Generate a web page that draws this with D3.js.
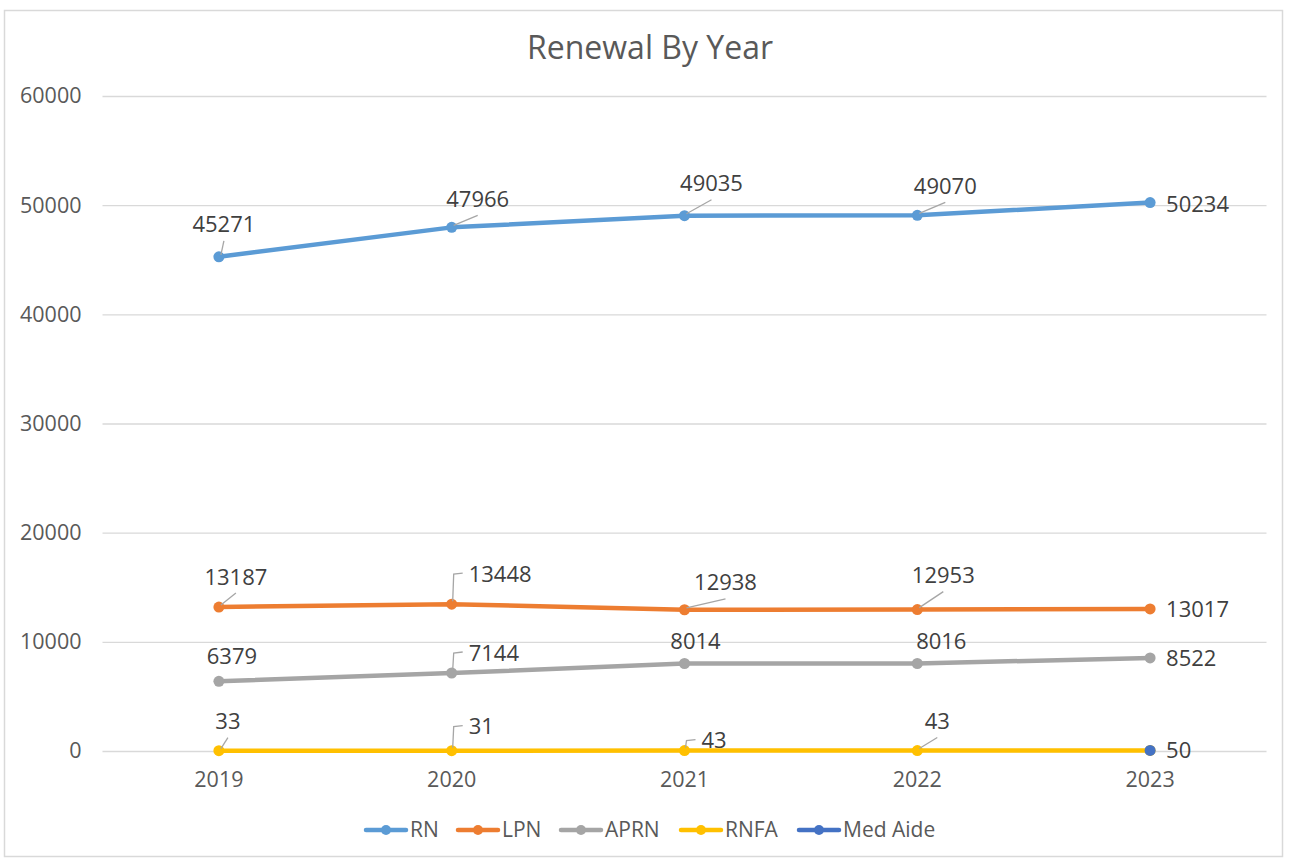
<!DOCTYPE html>
<html><head><meta charset="utf-8">
<script src="https://cdn.jsdelivr.net/npm/d3@7"></script>
<style>
body{margin:0;background:#fff;}
text{font-family:"Open Sans",sans-serif;fill:#404040;}
</style></head>
<body><svg id="c" width="1289" height="859"></svg>
<script>
const years = ["2019","2020","2021","2022","2023"];
const seriesNames = ["RN","LPN","APRN","RNFA","Med Aide"];
const rnValues = [45271,47966,49035,49070,50234];
const lpnValues = [13187,13448,12938,12953,13017];
const aprnValues = [6379,7144,8014,8016,8522];
const rnfaValues = [33,31,43,43,48];
const medAideValues = [null,null,null,null,50];
const yTicks = [0,10000,20000,30000,40000,50000,60000];
const colors = ["#5B9BD5","#ED7D31","#A5A5A5","#FFC000","#4472C4"];

// label placement: [dx, dy, leader type] per point (null = no label)
const labelPlacement = [
  [[5,-32,"s"],[26,-28,"s"],[27,-32,"s"],[28,-29,"s"],[16,2,"r"]],
  [[17,-30,"s"],[18,-30,"e"],[41,-27,"s"],[26,-34,"s"],[16,0,"r"]],
  [[13,-25,"n"],[18,-20,"e"],[11,-22,"n"],[24,-22,"n"],[16,0,"r"]],
  [[9,-29,"s"],[18,-24,"e"],[25,-10,"e"],[20,-29,"s"],null],
  [null,null,null,null,[16,0,"r"]]
];

const data = [rnValues,lpnValues,aprnValues,rnfaValues,medAideValues];
const svg = d3.select("#c");

svg.append("rect").attr("x",4.5).attr("y",10.5).attr("width",1278).attr("height",846)
  .attr("fill","#fff").attr("stroke","#D9D9D9").attr("stroke-width",1.5);

svg.append("text").attr("x",650).attr("y",59).attr("text-anchor","middle")
  .style("font-size","32px").style("fill","#595959").text("Renewal By Year");

const x = d3.scaleBand().domain(years).range([102.5,1266.5]);
const y = d3.scaleLinear().domain([0,60000]).range([751,96]);

const gy = svg.append("g").attr("transform","translate(102.5,0)")
  .call(d3.axisLeft(y).tickValues(yTicks).tickSize(-1164).tickPadding(21).tickFormat(d3.format("d")));
gy.select(".domain").remove();
gy.selectAll("line").attr("stroke","#D9D9D9").attr("stroke-width",1.3);
gy.selectAll("text").style("font-size","21.5px").style("fill","#595959").style("font-family","Open Sans");

const gx = svg.append("g").attr("transform","translate(0,751)")
  .call(d3.axisBottom(x).tickSize(0).tickPadding(21));
gx.select(".domain").remove();
gx.selectAll("text").style("font-size","21.5px").style("fill","#595959").style("font-family","Open Sans");

const cx = d => x(d) + x.bandwidth()/2;
const line = d3.line().defined(d=>d.v!=null).x(d=>cx(d.year)).y(d=>y(d.v));

data.forEach((vals,i)=>{
  const pts = years.map((yr,j)=>({year:yr,v:vals[j],j}));
  svg.append("path").datum(pts).attr("d",line).attr("fill","none")
    .attr("stroke",colors[i]).attr("stroke-width",4.5).attr("stroke-linecap","round").attr("stroke-linejoin","round");
});
data.forEach((vals,i)=>{
  const pts = years.map((yr,j)=>({year:yr,v:vals[j],j})).filter(d=>d.v!=null);
  svg.selectAll(null).data(pts).enter().append("circle")
    .attr("cx",d=>cx(d.year)).attr("cy",d=>y(d.v)).attr("r",5.5).attr("fill",colors[i]);
});

// labels
data.forEach((vals,i)=>{
  years.forEach((yr,j)=>{
    const p = labelPlacement[i][j];
    if(!p || vals[j]==null) return;
    const px = cx(yr), py = y(vals[j]);
    const [dx,dy,t] = p;
    const tx = px+dx, ty = py+dy;
    if(t==="s"){
      svg.append("line").attr("x1",px+2).attr("y1",py-2).attr("x2",tx).attr("y2",ty+16)
        .attr("stroke","#A6A6A6").attr("stroke-width",1.3);
    } else if(t==="e"){
      svg.append("polyline").attr("points",`${px+1},${py-3} ${px+2},${ty} ${px+11},${ty-1}`)
        .attr("fill","none").attr("stroke","#A6A6A6").attr("stroke-width",1.3);
    }
    const anchor = (t==="e"||t==="r") ? "start" : "middle";
    const lx = t==="e" ? px+17 : (t==="r" ? px+dx : tx);
    svg.append("text").attr("x",lx).attr("y",ty).attr("dy","0.35em")
      .attr("text-anchor",anchor).style("font-size","22px").text(vals[j]);
  });
});

// legend
const legX = [365,457,560,680,798];
const lg = svg.append("g");
seriesNames.forEach((n,i)=>{
  const g = lg.append("g").attr("transform",`translate(${legX[i]},830)`);
  g.append("line").attr("x1",1).attr("x2",41).attr("stroke",colors[i]).attr("stroke-width",4.5).attr("stroke-linecap","round");
  g.append("circle").attr("cx",21).attr("r",5).attr("fill",colors[i]);
  g.append("text").attr("x",45).attr("dy","0.35em").style("font-size","21px").style("fill","#595959").text(n);
});
</script></body></html>
